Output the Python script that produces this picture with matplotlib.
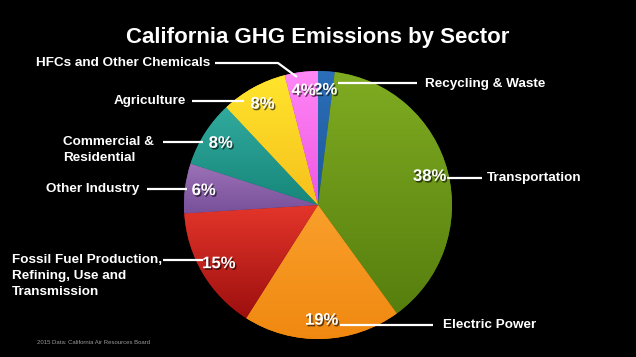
import numpy as np
import matplotlib
matplotlib.use("Agg")
import matplotlib.pyplot as plt
import matplotlib.patheffects as pe
from matplotlib.colors import to_rgba

# ---- data ----
sectors = ["Recycling & Waste", "Transportation", "Electric Power",
           "Fossil Fuel Production,\nRefining, Use and\nTransmission",
           "Other Industry", "Commercial &\nResidential", "Agriculture",
           "HFCs and Other Chemicals"]
shares = [2, 38, 19, 15, 6, 8, 8, 4]
title = "California GHG Emissions by Sector"
source = "2015 Data: California Air Resources Board"

# ---- style ----
top_colors = ["#2b6fba", "#80ac22", "#f9a02c", "#e5362b", "#9d72b8", "#31aa9e", "#ffe52c", "#ff88f6"]
bot_colors = ["#1d5898", "#567e0e", "#f0880f", "#9c0f0e", "#77509a", "#168679", "#f6c01c", "#ee55e2"]

W, H = 636, 357
plt.rcParams['font.family'] = ['Liberation Sans', 'DejaVu Sans']
fig = plt.figure(figsize=(W / 100, H / 100), dpi=100, facecolor="black")
ax = fig.add_axes([0, 0, 1, 1])
ax.set_facecolor("black")

cx, cy, R = 318, H - 205, 134

wedges, _, autotexts = ax.pie(
    shares, startangle=90, counterclock=False, center=(cx, cy), radius=R,
    autopct=lambda p: f"{p:.0f}%", pctdistance=0.86,
    wedgeprops=dict(linewidth=0),
    textprops=dict(color="white", fontsize=12, fontweight="bold"))

for w, tc, bc in zip(wedges, top_colors, bot_colors):
    w.set_facecolor(bc)
    verts = w.get_path().vertices
    y0, y1 = verts[:, 1].min(), verts[:, 1].max()
    x0, x1 = verts[:, 0].min(), verts[:, 0].max()
    t = np.linspace(0, 1, 200)[:, None]
    c0 = np.array(to_rgba(tc)); c1 = np.array(to_rgba(bc))
    img = (c0 * (1 - t) + c1 * t)[:, None, :]
    im = ax.imshow(img, extent=(x0 - 1, x1 + 1, y0 - 1, y1 + 1), origin="upper",
                   aspect="auto", interpolation="bilinear", zorder=w.get_zorder())
    im.set_clip_path(w)

for t in autotexts:
    t.set_zorder(5)
    t.set_path_effects([pe.withSimplePatchShadow(offset=(1, -1.2), shadow_rgbFace="black", alpha=0.6)])

def Y(y):
    return H - y

# leader lines and labels (pixel coordinates, y measured from top)
lk = dict(color="white", lw=1.6, solid_capstyle="butt", zorder=4)
tk = dict(color="white", fontsize=9.7, fontweight="bold", va="center", zorder=6)
mk = dict(color="white", fontsize=9.7, fontweight="bold", va="top", zorder=6,
          linespacing=1.45)

ax.plot([338, 417], [Y(83), Y(83)], **lk)
ax.text(425, Y(84), sectors[0], ha="left", **tk)

ax.plot([447, 482], [Y(178), Y(178)], **lk)
ax.text(487, Y(178), sectors[1], ha="left", **tk)

ax.plot([340, 433], [Y(325), Y(325)], **lk)
ax.text(443, Y(325), sectors[2], ha="left", **tk)

ax.plot([163, 203], [Y(260), Y(260)], **lk)
ax.text(12, Y(260) + 6, sectors[3], ha="left", **mk)

ax.plot([147, 187], [Y(189), Y(189)], **lk)
ax.text(139, Y(189), sectors[4], ha="right", **tk)

ax.plot([163, 203], [Y(142), Y(142)], **lk)
ax.text(63, Y(142) + 6, sectors[5], ha="left", **mk)

ax.plot([192, 244], [Y(101), Y(101)], **lk)
ax.text(186, Y(101), sectors[6], ha="right", **tk)

ax.plot([215, 278, 297], [Y(63), Y(63), Y(77)], **lk)
ax.text(210, Y(63), sectors[7], ha="right", **tk)

ax.text(318, Y(38), title, ha="center", va="center", color="white",
        fontsize=16, fontweight="bold")
ax.text(37, Y(343), source, ha="left", va="center", color="#9a9a9a", fontsize=4.3)

ax.set_xlim(0, W)
ax.set_ylim(0, H)
ax.set_aspect("auto")
ax.axis("off")
fig.savefig("out.png", dpi=100, facecolor="black")
